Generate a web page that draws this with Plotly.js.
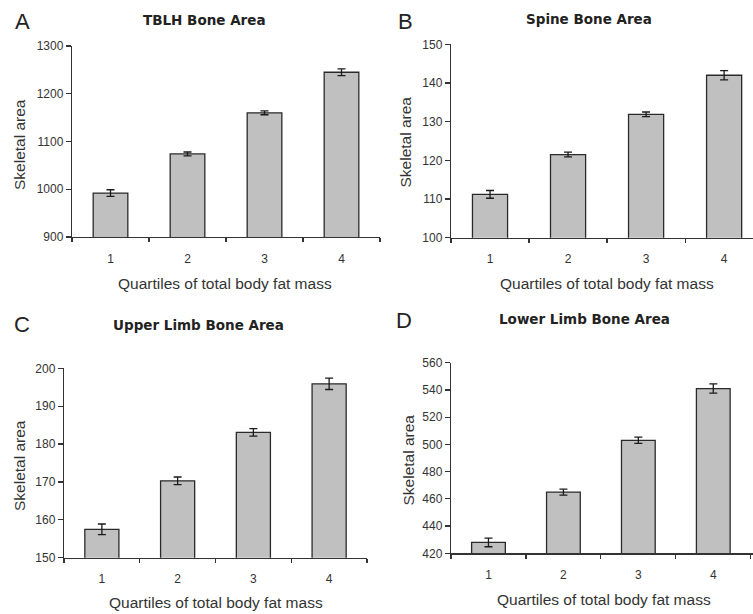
<!DOCTYPE html>
<html>
<head>
<meta charset="utf-8">
<script src="https://cdn.plot.ly/plotly-3.0.1.min.js"></script>
<style>html,body{margin:0;padding:0;background:#fff;}#chart{width:753px;height:614px;}</style>
</head>
<body>
<div id="chart"></div>
<script>
// ---- data ----
const quartiles = ['1', '2', '3', '4'];
const tblhArea = [992, 1074, 1160, 1245];
const tblhErr = [7, 4, 4, 7];
const spineArea = [111.2, 121.5, 131.9, 142.0];
const spineErr = [1.0, 0.6, 0.6, 1.2];
const upperArea = [157.5, 170.3, 183.1, 195.9];
const upperErr = [1.4, 1.0, 1.0, 1.5];
const lowerArea = [428, 465, 503, 541];
const lowerErr = [3.2, 2.2, 2.3, 3.4];
const panelTitles = ['TBLH Bone Area', 'Spine Bone Area', 'Upper Limb Bone Area', 'Lower Limb Bone Area'];
const panelLetters = ['A', 'B', 'C', 'D'];
const xTitle = 'Quartiles of total body fat mass';
const yTitle = 'Skeletal area';

// ---- layout helpers ----
const W = 753, H = 614;
const fx = p => p / W;
const fy = p => 1 - p / H;
const txt = '#333333';
const tickFont = {family: 'Liberation Sans, Arial, sans-serif', size: 12, color: txt};

function barTrace(vals, errs, n) {
  return {
    type: 'bar', x: quartiles, y: vals,
    xaxis: 'x' + (n === 1 ? '' : n), yaxis: 'y' + (n === 1 ? '' : n),
    width: 0.45,
    marker: {color: '#c0c0c0', line: {color: '#2a2a2a', width: 1.3}},
    error_y: {type: 'data', array: errs, visible: true, color: '#1a1a1a', thickness: 1.3, width: 4},
    hoverinfo: 'skip', showlegend: false
  };
}

function xAx(d0, d1, rEnd, anchor) {
  return {
    type: 'category', domain: [d0, d1], range: [-0.5, rEnd], anchor: anchor,
    showline: true, linecolor: '#333', linewidth: 1.2, showgrid: false, zeroline: false,
    ticks: 'outside', tickson: 'boundaries', ticklen: 4, tickcolor: '#333', tickwidth: 1.2,
    tickfont: tickFont, ticklabelstandoff: 10, fixedrange: true
  };
}
function yAx(d0, d1, r, dt, anchor) {
  return {
    domain: [d0, d1], range: r, dtick: dt, anchor: anchor,
    showline: true, linecolor: '#333', linewidth: 1.2, showgrid: false, zeroline: false,
    ticks: 'outside', ticklen: 5, tickcolor: '#333', tickwidth: 1.2,
    tickfont: tickFont, fixedrange: true
  };
}

const data = [
  barTrace(tblhArea, tblhErr, 1),
  barTrace(spineArea, spineErr, 2),
  barTrace(upperArea, upperErr, 3),
  barTrace(lowerArea, lowerErr, 4)
];

const annotations = [];
function addText(t, x, y, font, angle) {
  annotations.push({text: t, xref: 'paper', yref: 'paper', x: fx(x), y: fy(y),
    xanchor: 'center', yanchor: 'middle', showarrow: false, font: font, textangle: angle || 0});
}
const letterFont = {family: 'Liberation Sans, Arial, sans-serif', size: 22, color: '#222'};
const titleFont = {family: 'DejaVu Sans, sans-serif', size: 13.5, color: '#222', weight: 'bold'};
const axFont = {family: 'Liberation Sans, Arial, sans-serif', size: 15.5, color: txt};

// panel letters
addText(panelLetters[0], 22, 21, letterFont);
addText(panelLetters[1], 405, 21, letterFont);
addText(panelLetters[2], 22, 324, letterFont);
addText(panelLetters[3], 404, 320, letterFont);
// panel titles
addText('<b>' + panelTitles[0] + '</b>', 205, 19.5, titleFont);
addText('<b>' + panelTitles[1] + '</b>', 589, 18.5, titleFont);
addText('<b>' + panelTitles[2] + '</b>', 198, 325, titleFont);
addText('<b>' + panelTitles[3] + '</b>', 584.5, 319, titleFont);
// x titles
addText(xTitle, 225, 283, axFont);
addText(xTitle, 607, 283, axFont);
addText(xTitle, 216, 602, axFont);
addText(xTitle, 603.5, 599, axFont);
// y titles
addText(yTitle, 19, 145, axFont, -90);
addText(yTitle, 405, 142.5, axFont, -90);
addText(yTitle, 19, 466, axFont, -90);
addText(yTitle, 407.5, 460, axFont, -90);

const layout = {
  width: W, height: H,
  margin: {l: 0, r: 0, t: 0, b: 0},
  paper_bgcolor: '#fff', plot_bgcolor: 'rgba(0,0,0,0)',
  showlegend: false,
  xaxis: xAx(fx(72), fx(380), 3.5, 'y'),
  yaxis: yAx(fy(237), fy(46), [900, 1300], 100, 'x'),
  xaxis2: xAx(fx(451), 1, 3.37, 'y2'),
  yaxis2: yAx(fy(237.7), fy(44.3), [100, 150], 10, 'x2'),
  xaxis3: xAx(fx(64), fx(367), 3.5, 'y3'),
  yaxis3: yAx(fy(557.7), fy(368.3), [150, 200], 10, 'x3'),
  xaxis4: xAx(fx(451), 1, 3.53, 'y4'),
  yaxis4: yAx(fy(553.3), fy(362.7), [420, 560], 20, 'x4'),
  annotations: annotations
};

Plotly.newPlot('chart', data, layout, {staticPlot: true, displayModeBar: false});
</script>
</body>
</html>
